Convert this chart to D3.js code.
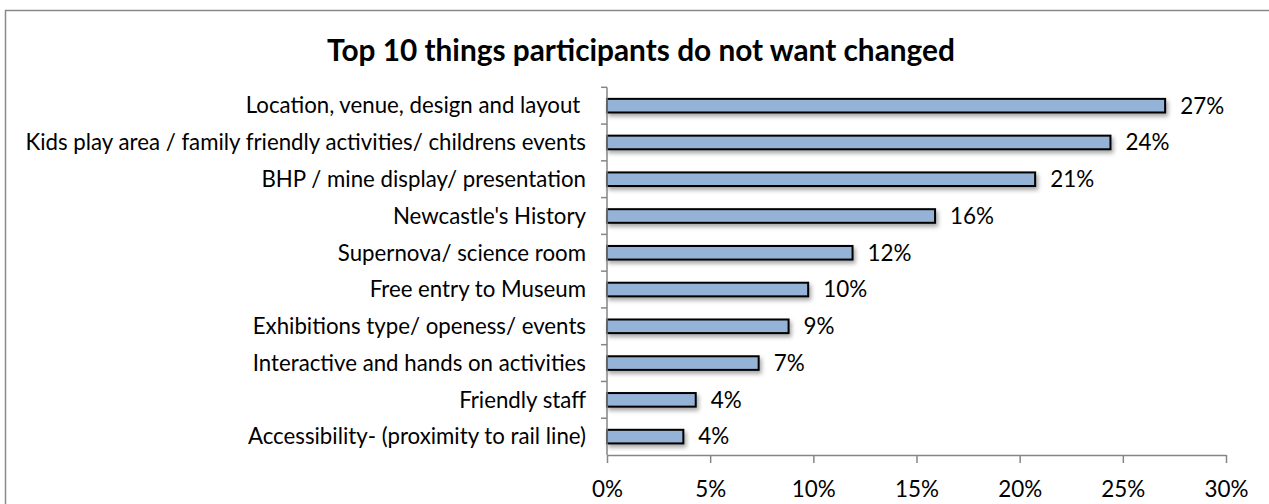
<!DOCTYPE html>
<html>
<head>
<meta charset="utf-8">
<script src="https://cdn.jsdelivr.net/npm/d3@7"></script>
<style>
  html, body { margin: 0; padding: 0; background: #ffffff; }
  svg { display: block; }
</style>
</head>
<body>
<svg id="chart" width="1269" height="504"></svg>
<script>
// Survey answers, top to bottom
const categories = [
  "Location, venue, design and layout ",
  "Kids play area / family friendly activities/ childrens events",
  "BHP / mine display/ presentation",
  "Newcastle's History",
  "Supernova/ science room",
  "Free entry to Museum",
  "Exhibitions type/ openess/ events",
  "Interactive and hands on activities",
  "Friendly staff",
  "Accessibility- (proximity to rail line)"
];
// Share of participants for each answer
const shares = [0.2705, 0.2440, 0.2075, 0.1590, 0.1190, 0.0975, 0.0880, 0.0735, 0.0430, 0.0370];
const xTicks = [0, 0.05, 0.10, 0.15, 0.20, 0.25, 0.30];
const chartTitle = "Top 10 things participants do not want changed";

const FONT = "Lato, 'Liberation Sans', sans-serif";
const svg = d3.select("#chart");

// font size that makes a string reach a given width
function fitSize(text, weight, width) {
  const t = svg.append("text")
    .attr("font-family", FONT).attr("font-weight", weight)
    .attr("font-size", 100).text(text);
  const w = t.node().getComputedTextLength();
  t.remove();
  return 100 * width / w;
}

const labelSize = fitSize(categories[1], "normal", 561);
const tickSize = fitSize("30%", "normal", 44);
const titleSize = fitSize(chartTitle, "bold", 628);

// chart frame
svg.append("rect")
  .attr("x", 5.5).attr("y", 10.5)
  .attr("width", 1400).attr("height", 700)
  .attr("fill", "none").attr("stroke", "#8a8a8a").attr("stroke-width", 1.5);

// soft shadow under the bars
const defs = svg.append("defs");
const f = defs.append("filter").attr("id", "shadow")
  .attr("x", "-5%").attr("y", "-50%").attr("width", "115%").attr("height", "250%");
f.append("feDropShadow")
  .attr("dx", 2).attr("dy", 3).attr("stdDeviation", 2)
  .attr("flood-color", "#000").attr("flood-opacity", 0.35);

const plot = { left: 607, right: 1226, top: 87.3, bottom: 455 };

const x = d3.scaleLinear().domain([0, 0.30]).range([plot.left, plot.right]);
const y = d3.scaleBand().domain(categories).range([plot.top, plot.bottom]).paddingInner(0.63).paddingOuter(0.315);
const yEdges = d3.scaleBand().domain(categories).range([plot.top, plot.bottom]);

// title
svg.append("text")
  .attr("x", 641).attr("y", 61)
  .attr("text-anchor", "middle")
  .attr("font-family", FONT).attr("font-weight", "bold")
  .attr("font-size", titleSize).attr("fill", "#000")
  .text(chartTitle);

// bars
svg.append("g").selectAll("rect")
  .data(categories)
  .join("rect")
  .attr("x", x(0))
  .attr("y", d => y(d))
  .attr("width", (d, i) => x(shares[i]) - x(0))
  .attr("height", y.bandwidth())
  .attr("fill", "#95b3d7")
  .attr("stroke", "#000")
  .attr("stroke-width", 2)
  .attr("filter", "url(#shadow)");

// value labels
const pct = d3.format(".0%");
svg.append("g").selectAll("text")
  .data(categories)
  .join("text")
  .attr("x", (d, i) => x(shares[i]) + 15)
  .attr("y", d => y(d) + y.bandwidth() / 2)
  .attr("dy", "0.35em")
  .attr("font-family", FONT).attr("font-size", tickSize).attr("fill", "#000")
  .text((d, i) => pct(shares[i]));

// category axis with ticks between the rows
const yAxisG = svg.append("g").attr("transform", `translate(${plot.left},0)`);
yAxisG.append("line")
  .attr("x1", 0).attr("x2", 0).attr("y1", plot.top).attr("y2", plot.bottom)
  .attr("stroke", "#868686").attr("stroke-width", 1.5);
yAxisG.selectAll("line.sep")
  .data(categories)
  .join("line").attr("class", "sep")
  .attr("x1", -6).attr("x2", 0)
  .attr("y1", d => yEdges(d)).attr("y2", d => yEdges(d))
  .attr("stroke", "#868686").attr("stroke-width", 1.5);
yAxisG.selectAll("text")
  .data(categories)
  .join("text")
  .attr("x", -21)
  .attr("y", d => yEdges(d) + yEdges.bandwidth() / 2)
  .attr("dy", "0.35em")
  .attr("text-anchor", "end")
  .style("white-space", "pre")
  .attr("font-family", FONT).attr("font-size", labelSize).attr("fill", "#000")
  .text(d => d);

// value axis
const xAxis = d3.axisBottom(x)
  .tickValues(xTicks)
  .tickFormat(d3.format(".0%"))
  .tickSize(8)
  .tickSizeOuter(0)
  .tickPadding(18);
const xAxisG = svg.append("g")
  .attr("transform", `translate(0,${plot.bottom})`)
  .call(xAxis);
xAxisG.select(".domain").attr("stroke", "#868686").attr("stroke-width", 1.5);
xAxisG.selectAll(".tick line").attr("stroke", "#868686").attr("stroke-width", 1.5);
xAxisG.selectAll(".tick text")
  .attr("font-family", FONT).attr("font-size", tickSize).attr("fill", "#000");
</script>
</body>
</html>
